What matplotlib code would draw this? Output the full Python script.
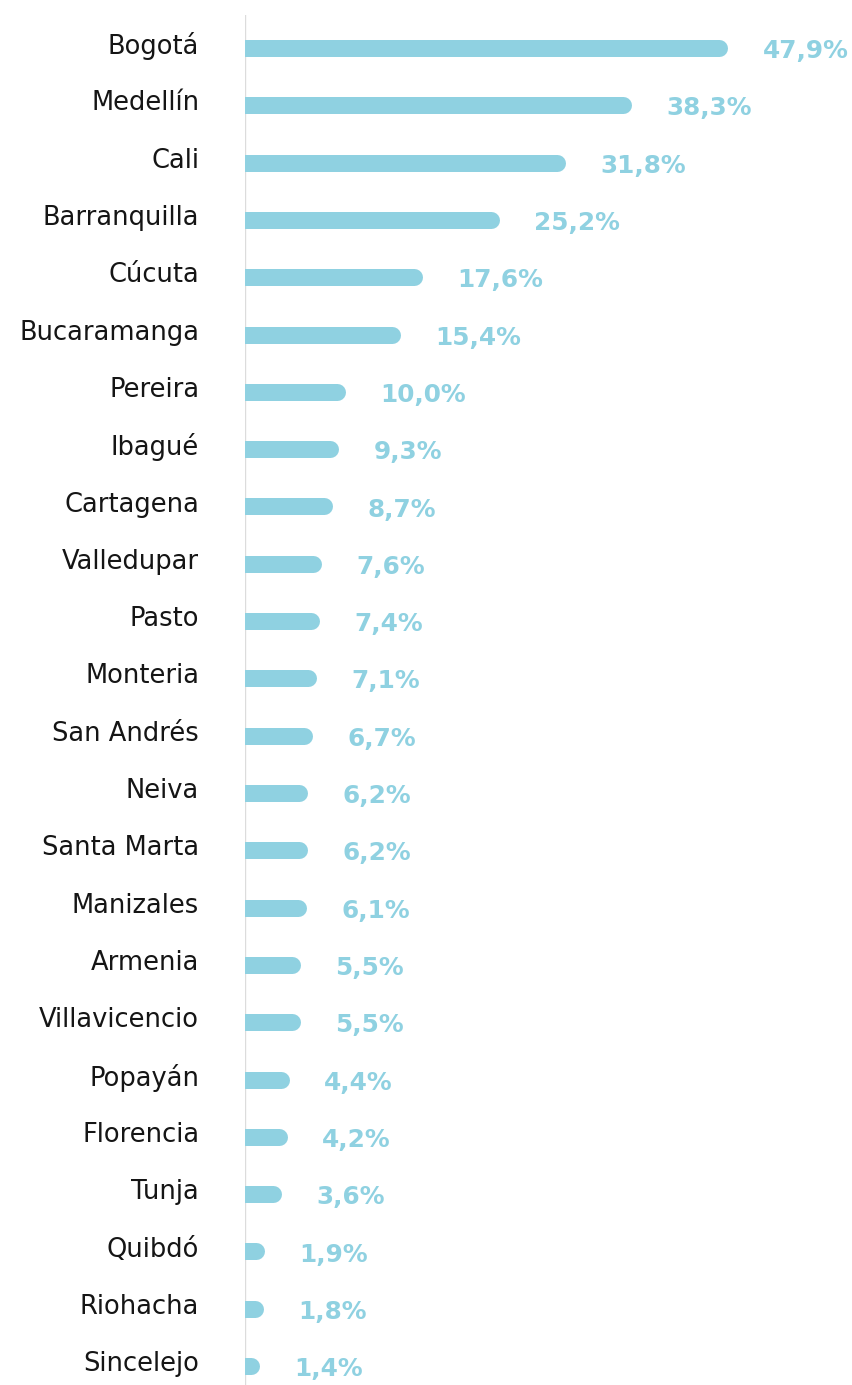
import matplotlib.pyplot as plt

ciudades = ['Bogotá', 'Medellín', 'Cali', 'Barranquilla', 'Cúcuta', 'Bucaramanga',
            'Pereira', 'Ibagué', 'Cartagena', 'Valledupar', 'Pasto', 'Monteria',
            'San Andrés', 'Neiva', 'Santa Marta', 'Manizales', 'Armenia',
            'Villavicencio', 'Popayán', 'Florencia', 'Tunja', 'Quibdó',
            'Riohacha', 'Sincelejo']
porcentajes = [47.9, 38.3, 31.8, 25.2, 17.6, 15.4, 10.0, 9.3, 8.7, 7.6, 7.4, 7.1,
               6.7, 6.2, 6.2, 6.1, 5.5, 5.5, 4.4, 4.2, 3.6, 1.9, 1.8, 1.4]

azul = '#8fd1e1'
W, H, DPI = 852, 1385, 100

fig = plt.figure(figsize=(W / DPI, H / DPI), dpi=DPI)
# zero line sits at x=245 px, the plot runs to the right edge
ax = fig.add_axes([245 / W, 0, 1 - 245 / W, 1 - 15 / H])
ax.set_xlim(0, 60.2)
ax.set_ylim(23.33, -0.576)
ax.axis('off')

px_por_unidad = (W - 245) / 60.2
radio = 8.5 / px_por_unidad  # rounded cap radius in data units

ax.axvline(0, color='#dcdcdc', lw=1.0, zorder=1)

pos = list(range(len(ciudades)))
# round-capped lines; left cap is clipped by the axes at x=0
extremos = [v - radio for v in porcentajes]
ax.hlines(pos, 0, extremos, colors=azul, lw=17 * 0.72, capstyle='round', zorder=2)

for i, (nombre, v) in enumerate(zip(ciudades, porcentajes)):
    ax.annotate(nombre, xy=(0, i), xytext=(-33, 1.4), textcoords='offset points',
                ha='right', va='center', fontsize=18.5, family='DejaVu Sans',
                color='#151515', annotation_clip=False)
    ax.annotate(f'{v:.1f}%'.replace('.', ','), xy=(v, i), xytext=(25, -2.2),
                textcoords='offset points', ha='left', va='center',
                fontsize=17.8, family='DejaVu Sans', fontweight='bold', color=azul,
                annotation_clip=False)

fig.savefig('out.png', dpi=DPI)
